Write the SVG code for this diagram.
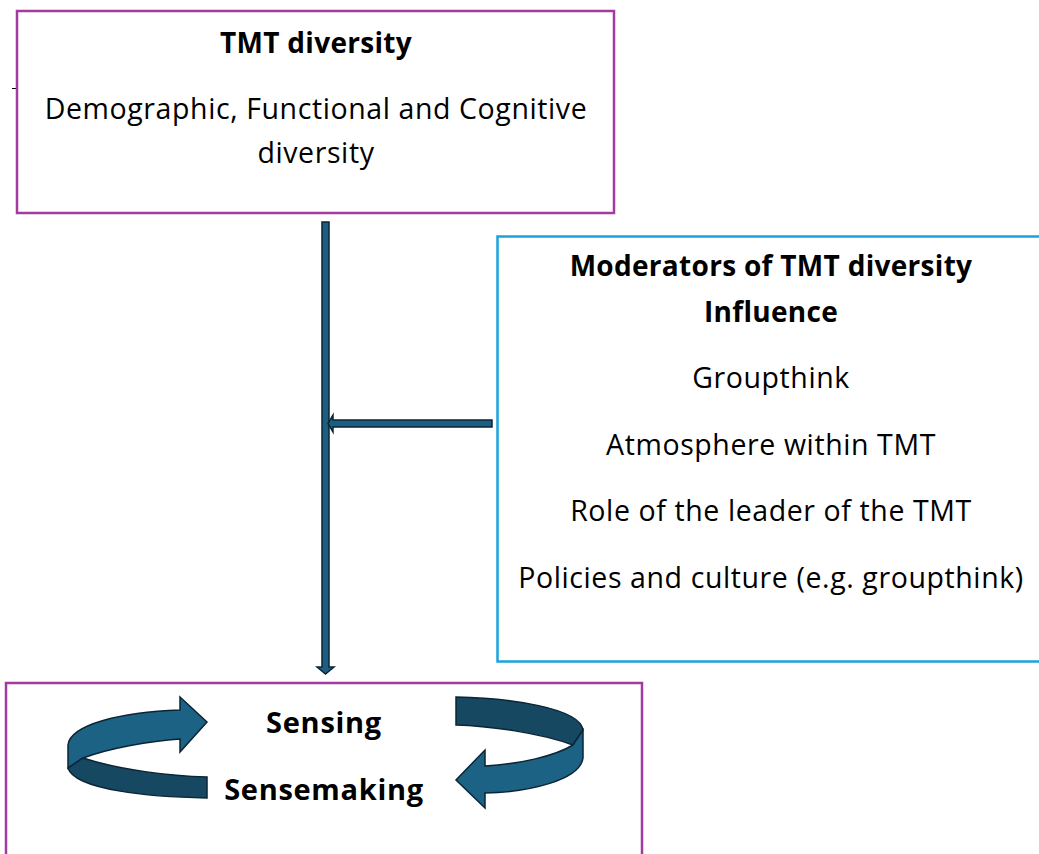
<svg xmlns="http://www.w3.org/2000/svg" width="1039" height="854" viewBox="0 0 1039 854">
<style>
.box{fill:#fff;stroke-width:2.5}
.p{stroke:#A43BA1}
.b{stroke:#1AA3DC}
text{font-family:"Open Sans","Noto Sans",sans-serif;font-size:28.5px;letter-spacing:0.6px;fill:#000;text-anchor:middle}
.bold{font-weight:bold;font-size:28px;letter-spacing:0.3px}
.sb{font-size:29px;letter-spacing:0.7px}
.arr{fill:#1B5E82;stroke:#0B2535;stroke-width:1.5;stroke-linejoin:miter}
.lt{fill:#1B6285;stroke:#0B2535;stroke-width:1.5}
.dk{fill:#164862;stroke:#0B2535;stroke-width:1.5}
</style>
<rect width="1039" height="854" fill="#fff"/>
<g id="tmt-diversity">
<line x1="12" y1="88.5" x2="17" y2="88.5" stroke="#000" stroke-width="1"/>
<rect class="box p" x="17" y="11" width="597" height="202"/>
<text class="bold" x="316" y="53">TMT diversity</text>
<text x="316" y="119">Demographic, Functional and Cognitive</text>
<text x="316" y="163">diversity</text>
</g>
<g id="moderators">
<rect class="box b" x="497.5" y="236.5" width="550" height="425"/>
<text class="bold" x="771" y="276">Moderators of TMT diversity</text>
<text class="bold" x="771" y="322">Influence</text>
<text x="771" y="388">Groupthink</text>
<text x="771" y="455">Atmosphere within TMT</text>
<text x="771" y="521">Role of the leader of the TMT</text>
<text x="771" y="588">Policies and culture (e.g. groupthink)</text>
</g>
<g id="sensing">
<rect class="box p" x="6" y="683" width="636" height="190"/>
<path class="lt" d="M180,697 L207,722 L180,752 L180,739 C150,741 110,748 83,758 L68,768 L68,745 C70,725 120,712 180,710 Z"/>
<path class="dk" d="M83,758 C120,770 170,776 207,777 L207,798 C150,797 75,790 68,768 Z"/>
<path class="dk" d="M456,697 C510,698 580,708 583,730 L573,745 C540,733 490,726 456,725 Z"/>
<path class="lt" d="M583,730 L583,758 C580,780 530,792 485,793 L485,808 L456,780 L485,750 L485,766 C520,764 555,756 573,745 Z"/>
<text class="bold sb" x="324" y="733">Sensing</text>
<text class="bold sb" x="324" y="800">Sensemaking</text>
</g>
<g id="connectors">
<path class="arr" d="M322,222 L329,222 L329,667 L334,667 L325.5,674 L317,667 L322,667 Z"/>
<path class="arr" d="M492,420 L492,427 L333,427 L333,432 L328,423.5 L333,415 L333,420 Z"/>
</g>
</svg>
